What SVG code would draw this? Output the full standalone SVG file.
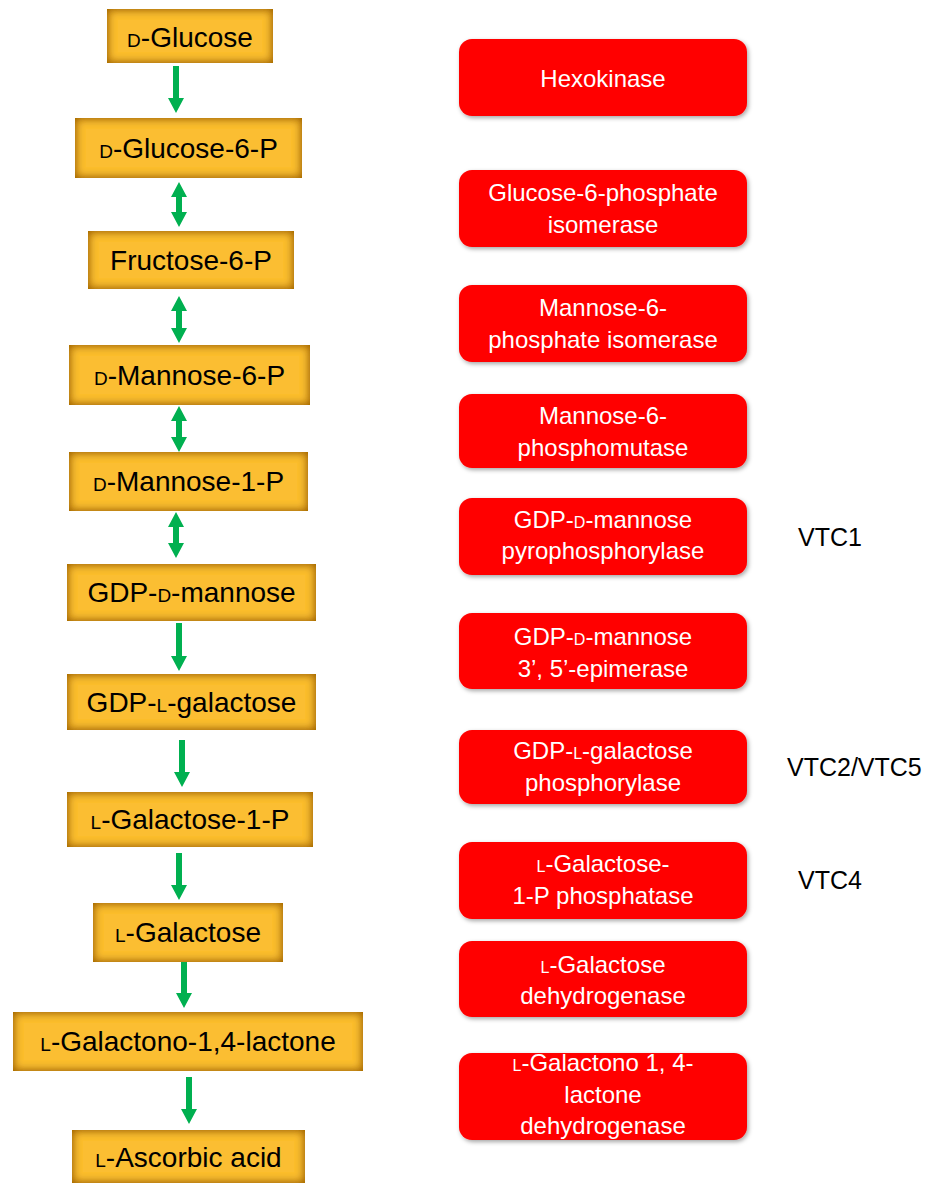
<svg xmlns="http://www.w3.org/2000/svg" width="935" height="1184" viewBox="0 0 935 1184">
<defs>
  <filter id="inner" x="-20%" y="-50%" width="140%" height="200%">
    <feFlood flood-color="#A56600"/>
    <feComposite in2="SourceAlpha" operator="out"/>
    <feGaussianBlur stdDeviation="5"/>
    <feComposite in2="SourceAlpha" operator="in" result="sh"/>
    <feMerge><feMergeNode in="SourceGraphic"/><feMergeNode in="sh"/><feMergeNode in="sh"/></feMerge>
  </filter>
  <filter id="drop" x="-10%" y="-20%" width="125%" height="150%">
    <feDropShadow dx="1.5" dy="2" stdDeviation="2" flood-color="#000" flood-opacity="0.35"/>
  </filter>
</defs>
<style>
  .met rect { fill: #FBBE30; filter: url(#inner); }
  .met text { font-family: "Liberation Sans", Arial, sans-serif; font-size: 28px; fill: #000; text-anchor: middle; }
  .sc { font-size: 19px; }
  .enz rect { fill: #FF0000; filter: url(#drop); }
  .enz text { font-family: "Liberation Sans", Arial, sans-serif; font-size: 24px; fill: #FFF; text-anchor: middle; }
  .enz .sc { font-size: 16px; }
  .gene text { font-family: "Liberation Sans", Arial, sans-serif; font-size: 25px; fill: #000; }
  .arr { fill: #00B050; }
</style>

<g id="connectors">
  <polygon class="arr" points="173,66 179,66 179,98 184,98 176,113 168,98 173,98"/>
  <polygon class="arr" points="179,182 187,197 182,197 182,212 187,212 179,227 171,212 176,212 176,197 171,197"/>
  <polygon class="arr" points="179,296 187,311 182,311 182,328 187,328 179,343 171,328 176,328 176,311 171,311"/>
  <polygon class="arr" points="179,406 187,421 182,421 182,437 187,437 179,452 171,437 176,437 176,421 171,421"/>
  <polygon class="arr" points="176,512 184,527 179,527 179,543 184,543 176,558 168,543 173,543 173,527 168,527"/>
  <polygon class="arr" points="176,623 182,623 182,656 187,656 179,671 171,656 176,656"/>
  <polygon class="arr" points="179,740 185,740 185,772 190,772 182,787 174,772 179,772"/>
  <polygon class="arr" points="176,853 182,853 182,885 187,885 179,900 171,885 176,885"/>
  <polygon class="arr" points="181,962 187,962 187,993 192,993 184,1008 176,993 181,993"/>
  <polygon class="arr" points="186,1077 192,1077 192,1109 197,1109 189,1124 181,1109 186,1109"/>
</g>

<g id="m-glucose" class="met"><rect x="107" y="9" width="166" height="54"/><text x="190" y="47"><tspan class="sc">D</tspan>-Glucose</text></g>
<g id="m-glucose6p" class="met"><rect x="75" y="118" width="227" height="60"/><text x="188.5" y="158"><tspan class="sc">D</tspan>-Glucose-6-P</text></g>
<g id="m-fructose6p" class="met"><rect x="88" y="231" width="206" height="58"/><text x="191" y="270">Fructose-6-P</text></g>
<g id="m-mannose6p" class="met"><rect x="69" y="345" width="241" height="60"/><text x="189.5" y="385"><tspan class="sc">D</tspan>-Mannose-6-P</text></g>
<g id="m-mannose1p" class="met"><rect x="69" y="452" width="239" height="59"/><text x="188.5" y="491"><tspan class="sc">D</tspan>-Mannose-1-P</text></g>
<g id="m-gdpmannose" class="met"><rect x="67" y="564" width="249" height="57"/><text x="191.5" y="602">GDP-<tspan class="sc">D</tspan>-mannose</text></g>
<g id="m-gdpgalactose" class="met"><rect x="67" y="674" width="249" height="56"/><text x="191.5" y="712">GDP-<tspan class="sc">L</tspan>-galactose</text></g>
<g id="m-galactose1p" class="met"><rect x="67" y="792" width="246" height="55"/><text x="190" y="829"><tspan class="sc">L</tspan>-Galactose-1-P</text></g>
<g id="m-galactose" class="met"><rect x="93" y="903" width="190" height="59"/><text x="188" y="942"><tspan class="sc">L</tspan>-Galactose</text></g>
<g id="m-galactonolactone" class="met"><rect x="13" y="1012" width="350" height="59"/><text x="188" y="1051"><tspan class="sc">L</tspan>-Galactono-1,4-lactone</text></g>
<g id="m-ascorbic" class="met"><rect x="72" y="1130" width="233" height="53"/><text x="188.5" y="1167"><tspan class="sc">L</tspan>-Ascorbic acid</text></g>

<g id="e-hexokinase" class="enz"><rect x="459" y="39" width="288" height="77" rx="13"/><text x="603" y="87">Hexokinase</text></g>
<g id="e-g6pi" class="enz"><rect x="459" y="170" width="288" height="77" rx="13"/><text x="603" y="201">Glucose-6-phosphate</text><text x="603" y="233">isomerase</text></g>
<g id="e-m6pi" class="enz"><rect x="459" y="285" width="288" height="77" rx="13"/><text x="603" y="316">Mannose-6-</text><text x="603" y="348">phosphate isomerase</text></g>
<g id="e-pmm" class="enz"><rect x="459" y="394" width="288" height="74" rx="13"/><text x="603" y="424">Mannose-6-</text><text x="603" y="456">phosphomutase</text></g>
<g id="e-gmpp" class="enz"><rect x="459" y="498" width="288" height="77" rx="13"/><text x="603" y="528">GDP-<tspan class="sc">D</tspan>-mannose</text><text x="603" y="559">pyrophosphorylase</text></g>
<g id="e-gme" class="enz"><rect x="459" y="613" width="288" height="76" rx="13"/><text x="603" y="645">GDP-<tspan class="sc">D</tspan>-mannose</text><text x="603" y="677">3’, 5’-epimerase</text></g>
<g id="e-ggp" class="enz"><rect x="459" y="730" width="288" height="74" rx="13"/><text x="603" y="759">GDP-<tspan class="sc">L</tspan>-galactose</text><text x="603" y="791">phosphorylase</text></g>
<g id="e-gpp" class="enz"><rect x="459" y="842" width="288" height="77" rx="13"/><text x="603" y="872"><tspan class="sc">L</tspan>-Galactose-</text><text x="603" y="904">1-P phosphatase</text></g>
<g id="e-galdh" class="enz"><rect x="459" y="941" width="288" height="76" rx="13"/><text x="603" y="973"><tspan class="sc">L</tspan>-Galactose</text><text x="603" y="1004">dehydrogenase</text></g>
<g id="e-gldh" class="enz"><rect x="459" y="1053" width="288" height="87" rx="13"/><text x="603" y="1071"><tspan class="sc">L</tspan>-Galactono 1, 4-</text><text x="603" y="1103">lactone</text><text x="603" y="1134">dehydrogenase</text></g>

<g id="g-vtc1" class="gene"><text x="798" y="546">VTC1</text></g>
<g id="g-vtc25" class="gene"><text x="787" y="776">VTC2/VTC5</text></g>
<g id="g-vtc4" class="gene"><text x="798" y="889">VTC4</text></g>
</svg>
